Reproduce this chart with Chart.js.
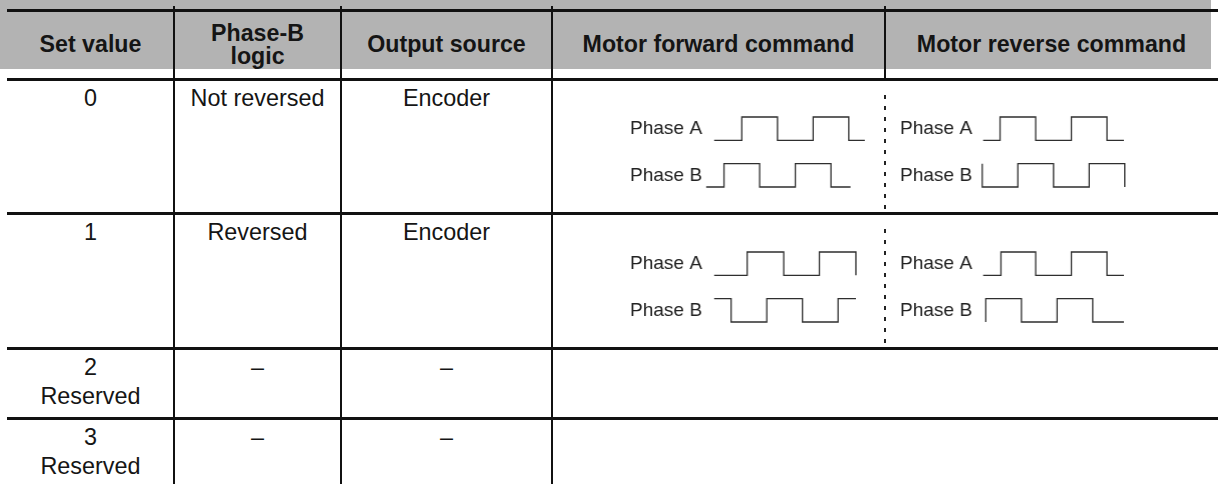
<!DOCTYPE html>
<html>
<head>
<meta charset="utf-8">
<script src="https://cdn.jsdelivr.net/npm/chart.js@4.4.1/dist/chart.umd.min.js"></script>
<style>
  html, body { margin: 0; padding: 0; background: #fff; }
  #page { position: relative; width: 1218px; height: 484px; overflow: hidden;
    font-family: 'Liberation Sans', Arial, sans-serif; font-size: 23.4px; color: #151515; }
  .hl { position: absolute; height: 3px; background: #111; }
  .vl { position: absolute; width: 2px; background: #111; }
  .cell { position: absolute; text-align: center; white-space: pre-line; line-height: 29px; }
  .hd { font-weight: bold; font-size: 23.2px; display: flex; align-items: center; justify-content: center; }
  .dash { position: absolute; width: 2px;
    background: repeating-linear-gradient(to bottom, #222 0 4px, transparent 4px 11px); }
  canvas.wave { position: absolute; }
</style>
</head>
<body>
<div id="page"></div>
<script>
// table text
const columns = ['Set value', 'Phase-B\nlogic', 'Output source', 'Motor forward command', 'Motor reverse command'];
const setValues = ['0', '1', '2\nReserved', '3\nReserved'];
const phaseBLogic = ['Not reversed', 'Reversed', '–', '–'];
const outputSource = ['Encoder', 'Encoder', '–', '–'];
const traceLabels = ['Phase A', 'Phase B'];

// waveforms: [time in quarter periods, level 0/1], value changes at the given time
const fwd0A = [[0.45, 0], [2, 1], [4, 0], [6, 1], [8, 0], [8.9, 0]];
const fwd0B = [[0, 0], [1, 1], [3, 0], [5, 1], [7, 0], [8.1, 0]];
const rev0A = [[0.05, 0], [1, 1], [3, 0], [5, 1], [7, 0], [7.95, 0]];
const rev0B = [[0, 1], [0, 0], [2, 1], [4, 0], [6, 1], [8, 0]];
const fwd1A = [[0.45, 0], [2.3, 1], [4.35, 0], [6.35, 1], [8.4, 0]];
const fwd1B = [[0.45, 1], [1.4, 0], [3.4, 1], [5.4, 0], [7.4, 1], [8.4, 1]];
const rev1A = [[0.05, 0], [1.05, 1], [3, 0], [5, 1], [7, 0], [7.95, 0]];
const rev1B = [[0.2, 0], [0.2, 1], [2.2, 0], [4.2, 1], [6.2, 0], [7.95, 0]];

// layout
const LEFT = 7, RIGHT = 1218;
const COL_X = [7, 174, 341, 552, 885, 1218];
const ROW_Y = [10, 79, 213, 348, 418, 500];
const UNIT = 17.75;       // px per quarter period
const WAVE_H = 70;        // Phase A high .. Phase B low

const page = document.getElementById('page');

function box(cls, css, text) {
  const d = document.createElement('div');
  d.className = cls;
  for (const k in css) d.style[k] = typeof css[k] === 'number' ? css[k] + 'px' : css[k];
  if (text != null) d.textContent = text;
  page.appendChild(d);
  return d;
}

// header band
box('', { left: LEFT, top: ROW_Y[0], width: RIGHT - LEFT, height: ROW_Y[1] - ROW_Y[0], background: '#b3b3b3' });
columns.forEach((c, i) => box('cell hd', {
  left: COL_X[i], top: ROW_Y[0], width: COL_X[i + 1] - COL_X[i], height: ROW_Y[1] - ROW_Y[0], lineHeight: '23px',
}, c));

// body text
setValues.forEach((v, r) => {
  const top = ROW_Y[r + 1] + 5;
  [v, phaseBLogic[r], outputSource[r]].forEach((t, i) => box('cell', {
    left: COL_X[i], top, width: COL_X[i + 1] - COL_X[i],
  }, t));
});

// rules
ROW_Y.slice(0, 5).forEach((y) => box('hl', { left: LEFT, top: y - 1.5, width: RIGHT - LEFT }));
COL_X.slice(1, 4).forEach((x) => box('vl', { left: x - 1, top: 6, height: 484 }));
box('vl', { left: COL_X[4] - 1, top: 6, height: ROW_Y[1] - 6 });
box('dash', { left: COL_X[4] - 1, top: ROW_Y[1] + 16, height: ROW_Y[2] - ROW_Y[1] - 20 });
box('dash', { left: COL_X[4] - 1, top: ROW_Y[2] + 16, height: ROW_Y[3] - ROW_Y[2] - 20 });

function wave(phaseA, phaseB, span, x0, y0, pad) {
  const canvas = document.createElement('canvas');
  canvas.className = 'wave';
  canvas.width = 300; canvas.height = 150;
  page.appendChild(canvas);
  const line = { stepped: true, borderColor: '#2e2e2e', borderWidth: 1.3, pointRadius: 0, clip: false, fill: false };
  const chart = new Chart(canvas, {
    type: 'line',
    data: {
      datasets: [
        { ...line, label: traceLabels[0], data: phaseA.map(([t, v]) => ({ x: t, y: v + 2 })) },
        { ...line, label: traceLabels[1], data: phaseB.map(([t, v]) => ({ x: t, y: v })) },
      ],
    },
    options: {
      responsive: false, maintainAspectRatio: false, animation: false, events: [], devicePixelRatio: 1,
      layout: { padding: { top: 30, bottom: 30, left: 0, right: 4 } },
      plugins: { legend: { display: false }, tooltip: { enabled: false } },
      scales: {
        x: { type: 'linear', min: 0, max: span, display: false },
        y: {
          min: 0, max: 3,
          border: { display: false },
          grid: { display: false, drawTicks: false },
          afterBuildTicks: (s) => { s.ticks = [{ value: 0.5 }, { value: 2.5 }]; },
          ticks: {
            padding: pad, color: '#222',
            font: { family: "'Liberation Sans', Arial", size: 19 },
            callback: (v) => (v > 1.5 ? traceLabels[0] : traceLabels[1]),
          },
        },
      },
    },
  });
  // fit the plot area onto the cell position
  let ca = chart.chartArea;
  chart.resize(ca.left + span * UNIT + (canvas.width - ca.right), ca.top + WAVE_H + (canvas.height - ca.bottom));
  ca = chart.chartArea;
  canvas.style.left = (x0 - ca.left) + 'px';
  canvas.style.top = (y0 - ca.top) + 'px';
  return chart;
}

wave(fwd0A, fwd0B, 9, 706, 117, 4);
wave(rev0A, rev0B, 8, 982, 117, 10);
wave(fwd1A, fwd1B, 9, 706, 252, 4);
wave(rev1A, rev1B, 8, 982, 252, 10);
</script>
</body>
</html>
